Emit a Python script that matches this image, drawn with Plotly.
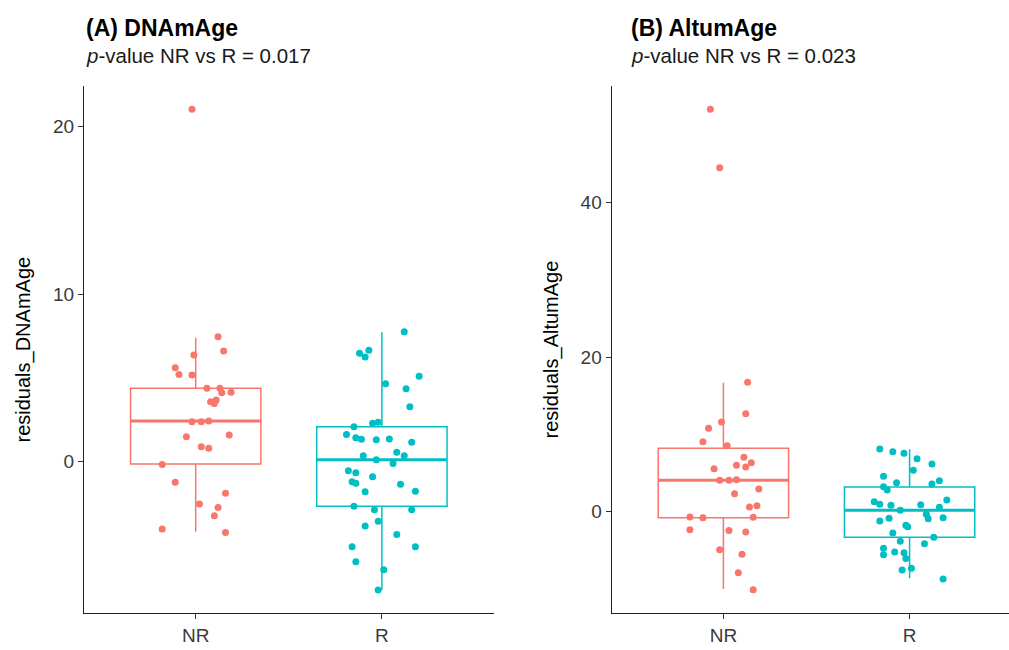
import plotly.graph_objects as go

# ---------------- data ----------------
categories = ["NR", "R"]

# Panel A: DNAmAge residuals (values and horizontal jitter)
dnam_nr = [21.04, 7.46, 6.61, 6.37, 5.61, 5.20, 5.18, 4.38, 4.38, 4.12, 4.14, 3.58, 3.48, 3.68,
           2.39, 2.39, 2.43, 1.49, 1.59, 0.90, 0.80, -0.16, -1.23, -1.89, -2.53, -2.73, -3.22,
           -4.02, -4.22]
dnam_nr_jit = [-0.02, 0.12, 0.15, -0.01, -0.11, -0.09, -0.02, 0.06, 0.13, 0.14, 0.19, 0.08, 0.10, 0.11,
               -0.02, 0.03, 0.07, -0.05, 0.18, 0.03, 0.07, -0.18, -0.11, 0.16, 0.02, 0.12, 0.10,
               -0.18, 0.16]
dnam_r = [7.76, 6.47, 6.65, 6.25, 5.10, 4.66, 4.36, 3.28, 2.29, 2.35, 2.09, 1.63, 1.43, 1.34,
          1.31, 1.36, 1.16, 0.36, 0.56, 0.36, 0.12, -0.10, -0.54, -0.66, -0.90, -1.19, -1.29,
          -1.35, -1.79, -1.77, -2.66, -2.87, -2.87, -3.56, -3.84, -4.34, -5.07, -5.07, -5.97,
          -6.45, -7.66]
dnam_r_jit = [0.12, -0.12, -0.07, -0.09, 0.20, 0.02, 0.13, 0.15, -0.05, -0.02, -0.15, -0.19, -0.14, -0.11,
              -0.03, 0.04, 0.16, -0.10, 0.08, 0.12, -0.03, 0.06, -0.18, -0.14, -0.05, -0.16, -0.14,
              0.10, -0.09, 0.18, -0.15, -0.04, 0.16, -0.02, -0.09, 0.08, -0.16, 0.18, -0.14,
              0.01, -0.02]
# box statistics: lower whisker, Q1, median, Q3, upper whisker
dnam_box_nr = [-4.18, -0.14, 2.43, 4.38, 7.40]
dnam_box_r = [-7.66, -2.66, 0.12, 2.09, 7.73]

# Panel B: AltumAge residuals
altum_nr = [52.02, 44.47, 16.73, 12.67, 11.60, 10.78, 9.05, 8.53, 7.03, 5.56, 6.00, 5.78, 6.34,
            4.06, 4.06, 4.14, 2.93, 2.33, 0.61, 0.78, -0.69, -0.78, -0.72, -2.33, -2.41, -2.62,
            -4.91, -5.51, -7.89, -10.08]
altum_nr_jit = [-0.07, -0.02, 0.13, 0.12, -0.01, -0.08, -0.11, 0.02, 0.11, -0.05, 0.07, 0.12, 0.15,
                -0.02, 0.03, 0.07, 0.19, 0.06, 0.14, 0.18, -0.18, -0.11, 0.16, -0.18, 0.03, 0.12,
                -0.02, 0.10, 0.08, 0.16]
altum_r = [8.11, 7.76, 7.55, 6.85, 6.17, 5.35, 4.58, 3.75, 4.01, 3.58, 3.23, 2.81, 1.51, 1.29,
           0.96, 0.83, 0.91, 0.57, 0.18, -0.34, -0.90, -0.78, -1.20, -0.85, -1.76, -1.94, -2.75,
           -3.31, -3.83, -4.14, -4.73, -5.56, -5.21, -5.30, -6.03, -7.54, -7.32, -8.70]
altum_r_jit = [-0.16, -0.09, -0.03, 0.04, 0.12, 0.02, -0.14, -0.07, 0.16, 0.12, -0.14, -0.12, 0.20, -0.19,
               -0.16, -0.10, 0.06, 0.16, -0.05, 0.09, 0.10, 0.18, -0.16, -0.11, -0.02, -0.01, -0.09,
               0.13, -0.05, 0.08, -0.14, -0.14, -0.08, -0.03, -0.02, -0.04, 0.01, 0.18]
altum_box_nr = [-9.99, -0.78, 4.06, 8.20, 16.68]
altum_box_r = [-8.61, -3.31, 0.18, 3.19, 8.07]

y_ticks_a = [0, 10, 20]
y_ticks_b = [0, 20, 40]

titles = ["<b>(A) DNAmAge</b>", "<b>(B) AltumAge</b>"]
subtitles = ["<i>p</i>-value NR vs R = 0.017", "<i>p</i>-value NR vs R = 0.023"]
y_titles = ["residuals_DNAmAge", "residuals_AltumAge"]

# ---------------- style ----------------
colors = ["#F8766D", "#00BFC4"]
W, H = 1009, 650
FONT = "Liberation Sans, Arial, sans-serif"
BOX_HALF = 0.35

fig = go.Figure()

panels = [
    (dict(nr=dnam_nr, nrj=dnam_nr_jit, r=dnam_r, rj=dnam_r_jit, bnr=dnam_box_nr, br=dnam_box_r), "x", "y"),
    (dict(nr=altum_nr, nrj=altum_nr_jit, r=altum_r, rj=altum_r_jit, bnr=altum_box_nr, br=altum_box_r), "x2", "y2"),
]

for d, xa, ya in panels:
    groups = [(d["nr"], d["nrj"], d["bnr"]), (d["r"], d["rj"], d["br"])]
    for gi, (vals, jit, stats) in enumerate(groups):
        pos = gi + 1
        c = colors[gi]
        fig.add_trace(go.Box(
            x=[pos], lowerfence=[stats[0]], q1=[stats[1]], median=[stats[2]], q3=[stats[3]],
            upperfence=[stats[4]], width=2 * BOX_HALF, fillcolor="rgba(0,0,0,0)",
            line=dict(color=c, width=1.5), boxpoints=False, whiskerwidth=0,
            xaxis=xa, yaxis=ya, showlegend=False, hoverinfo="skip"))
        # thicker median line (ggplot style)
        fig.add_trace(go.Scatter(
            x=[pos - BOX_HALF, pos + BOX_HALF], y=[stats[2], stats[2]], mode="lines",
            line=dict(color=c, width=3), xaxis=xa, yaxis=ya, showlegend=False, hoverinfo="skip"))
    for gi, (vals, jit, stats) in enumerate(groups):
        pos = gi + 1
        fig.add_trace(go.Scatter(
            x=[pos + j for j in jit], y=vals, mode="markers",
            marker=dict(color=colors[gi], size=7, line=dict(width=0)),
            xaxis=xa, yaxis=ya, showlegend=False))

ydom = [1 - 613.3 / H, 1 - 86 / H]
axis_common = dict(showline=True, linecolor="#222222", linewidth=1.3, ticks="outside",
                   ticklen=5, tickcolor="#333333", tickwidth=1.2, showgrid=False, zeroline=False,
                   tickfont=dict(family=FONT, size=19, color="#3a3a3a"))

fig.update_layout(
    width=W, height=H, margin=dict(l=0, r=0, t=0, b=0),
    plot_bgcolor="white", paper_bgcolor="white",
    xaxis=dict(domain=[84 / W, 493.6 / W], range=[0.4, 2.6], tickvals=[1, 2], ticktext=categories,
               anchor="y", **axis_common),
    yaxis=dict(domain=ydom, range=[-9.05, 22.43], tickvals=y_ticks_a, anchor="x", **axis_common),
    xaxis2=dict(domain=[611.7 / W, 1.0], range=[0.4, 2.534], tickvals=[1, 2], ticktext=categories,
                anchor="y2", **axis_common),
    yaxis2=dict(domain=ydom, range=[-13.13, 55.04], tickvals=y_ticks_b, anchor="x2", **axis_common),
)

ann = []
title_x = [84, 629]
ycen = 349.5
ytitle_x = [23, 551]
for i in range(2):
    ann.append(dict(text=titles[i], x=title_x[i] / W, y=1 - 28 / H, xref="paper", yref="paper",
                    xanchor="left", yanchor="middle", showarrow=False,
                    font=dict(family=FONT, size=23, color="black")))
    ann.append(dict(text=subtitles[i], x=title_x[i] / W, y=1 - 56 / H, xref="paper", yref="paper",
                    xanchor="left", yanchor="middle", showarrow=False,
                    font=dict(family=FONT, size=20.5, color="#1a1a1a")))
    ann.append(dict(text=y_titles[i], x=ytitle_x[i] / W, y=1 - ycen / H, xref="paper", yref="paper",
                    xanchor="center", yanchor="middle", showarrow=False, textangle=-90,
                    font=dict(family=FONT, size=20, color="black")))
fig.update_layout(annotations=ann)

fig.write_html("out.html")
